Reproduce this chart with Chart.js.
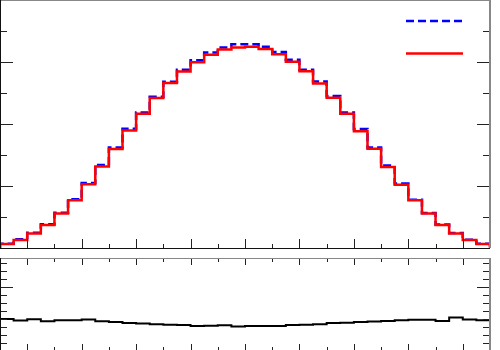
<!DOCTYPE html>
<html>
<head>
<meta charset="utf-8">
<script src="https://cdn.jsdelivr.net/npm/chart.js@4/dist/chart.umd.min.js"></script>
<style>
  html, body { margin: 0; padding: 0; background: #ffffff; }
  body { width: 500px; height: 350px; position: relative; overflow: hidden; }
  #top { position: absolute; left: 0; top: 0; }
  #bottom { position: absolute; left: 0; top: 250px; }
</style>
</head>
<body>
<canvas id="top" width="500" height="250"></canvas>
<canvas id="bottom" width="500" height="102"></canvas>
<script>
// ---- data (bin contents, 36 bins) ----
const binEdgesCount = 36;
const redValues = [0.13, 0.26, 0.47, 0.74, 1.11, 1.54, 2.06, 2.63, 3.19, 3.79, 4.33, 4.84,
                   5.32, 5.69, 5.99, 6.23, 6.40, 6.47, 6.49, 6.42, 6.25, 6.01, 5.70, 5.31,
                   4.85, 4.33, 3.77, 3.20, 2.61, 2.04, 1.54, 1.11, 0.74, 0.47, 0.26, 0.13];
const blueValues = [0.14, 0.28, 0.49, 0.77, 1.14, 1.57, 2.10, 2.68, 3.24, 3.85, 4.37, 4.88,
                    5.36, 5.75, 6.06, 6.31, 6.47, 6.57, 6.57, 6.49, 6.32, 6.07, 5.75, 5.37,
                    4.90, 4.37, 3.84, 3.24, 2.66, 2.08, 1.56, 1.13, 0.76, 0.48, 0.27, 0.14];
const ratioValues = [4.00, 3.81, 3.97, 3.72, 3.85, 3.85, 3.93, 3.72, 3.64, 3.52, 3.43, 3.34,
                     3.30, 3.26, 3.13, 3.17, 3.21, 3.08, 3.13, 3.13, 3.13, 3.26, 3.30, 3.34,
                     3.52, 3.55, 3.64, 3.68, 3.77, 3.85, 3.90, 3.90, 3.77, 4.19, 3.93, 3.85];
// tick positions (no labels shown)
const xMajorTicks = [2, 6, 10, 14, 18, 22, 26, 30, 34];
const xMinorTicks = [4, 8, 12, 16, 20, 24, 28, 32];
const topYMajor = [2, 4, 6];
const topYMinor = [1, 3, 5, 7];
const ratioYMajor = [8];
const ratioYMinor = [1, 2, 3, 4, 5, 6, 7, 9, 10, 11];

function histPoints(vals) {
  const pts = [{x: 0, y: 0}];
  vals.forEach((v, i) => pts.push({x: i, y: v}));
  pts.push({x: vals.length, y: vals[vals.length - 1]});
  pts.push({x: vals.length, y: 0});
  return pts;
}

function framePlugin(cfg) {
  return {
    id: 'frame',
    afterDatasetsDraw(chart) {
      const ctx = chart.ctx;
      const a = chart.chartArea;
      const xs = chart.scales.x, ys = chart.scales.y;
      ctx.save();
      ctx.lineWidth = 1;
      ctx.strokeStyle = '#222';
      ctx.beginPath();
      // y ticks left & right, inward
      const yt = (vals, len) => vals.forEach(v => {
        const py = Math.round(ys.getPixelForValue(v)) + 0.5;
        ctx.moveTo(a.left, py); ctx.lineTo(a.left + len, py);
        ctx.moveTo(a.right, py); ctx.lineTo(a.right - len, py);
      });
      yt(cfg.yMajor, 13); yt(cfg.yMinor, 7);
      const xt = (vals, len) => vals.forEach(v => {
        const px = Math.round(xs.getPixelForValue(v)) + 0.5;
        ctx.moveTo(px, a.bottom); ctx.lineTo(px, a.bottom - len);
        if (cfg.topTicks) { ctx.moveTo(px, a.top); ctx.lineTo(px, a.top + len); }
      });
      xt(xMajorTicks, cfg.xMajorLen); xt(xMinorTicks, cfg.xMinorLen);
      ctx.stroke();
      // frame
      ctx.strokeStyle = '#888';
      ctx.beginPath();
      ctx.moveTo(a.left, a.top + 0.5); ctx.lineTo(a.right, a.top + 0.5);
      ctx.stroke();
      ctx.lineWidth = 2;
      ctx.beginPath();
      ctx.moveTo(a.right, a.top); ctx.lineTo(a.right, a.bottom);
      ctx.stroke();
      ctx.strokeStyle = '#111';
      ctx.lineWidth = 1;
      ctx.beginPath();
      ctx.moveTo(a.left + 0.5, a.top); ctx.lineTo(a.left + 0.5, a.bottom);
      ctx.moveTo(a.left, a.bottom + 0.5); ctx.lineTo(a.right, a.bottom + 0.5);
      ctx.stroke();
      if (cfg.legend) {
        ctx.lineWidth = 2.5;
        ctx.strokeStyle = '#0000ff';
        ctx.setLineDash([8, 4]);
        ctx.beginPath(); ctx.moveTo(406, 21); ctx.lineTo(463, 21); ctx.stroke();
        ctx.setLineDash([]);
        ctx.strokeStyle = '#ff0000';
        ctx.beginPath(); ctx.moveTo(406, 53.5); ctx.lineTo(463, 53.5); ctx.stroke();
      }
      ctx.restore();
    }
  };
}

const common = {
  responsive: false,
  animation: false,
  devicePixelRatio: 1,
  plugins: { legend: { display: false }, tooltip: { enabled: false } },
  elements: { point: { radius: 0 } },
};

new Chart(document.getElementById('top'), {
  type: 'line',
  data: {
    datasets: [
      { label: 'red', data: histPoints(redValues), borderColor: '#ff0000', borderWidth: 2.5,
        stepped: true, fill: false, pointRadius: 0 },
      { label: 'blue', data: histPoints(blueValues), borderColor: '#0000ff', borderWidth: 2.5,
        borderDash: [8, 4], stepped: true, fill: false, pointRadius: 0 }
    ]
  },
  options: Object.assign({}, common, {
    layout: { padding: { left: 0, right: 10, top: 0, bottom: 2 } },
    scales: {
      x: { type: 'linear', min: 0, max: binEdgesCount, display: false },
      y: { min: 0, max: 8, display: false }
    }
  }),
  plugins: [framePlugin({ yMajor: topYMajor, yMinor: topYMinor, xMajorLen: 9, xMinorLen: 4, topTicks: false, legend: true })]
});

new Chart(document.getElementById('bottom'), {
  type: 'line',
  data: {
    datasets: [
      { label: 'ratio', data: histPoints(ratioValues).slice(1, -1), borderColor: '#000000', borderWidth: 2,
        stepped: true, fill: false, pointRadius: 0 }
    ]
  },
  options: Object.assign({}, common, {
    layout: { padding: { left: 0, right: 10, top: 8, bottom: 1 } },
    scales: {
      x: { type: 'linear', min: 0, max: binEdgesCount, display: false },
      y: { min: 0, max: 11.64, display: false }
    }
  }),
  plugins: [framePlugin({ yMajor: ratioYMajor, yMinor: ratioYMinor, xMajorLen: 7, xMinorLen: 4, topTicks: true, legend: false })]
});
</script>
</body>
</html>
